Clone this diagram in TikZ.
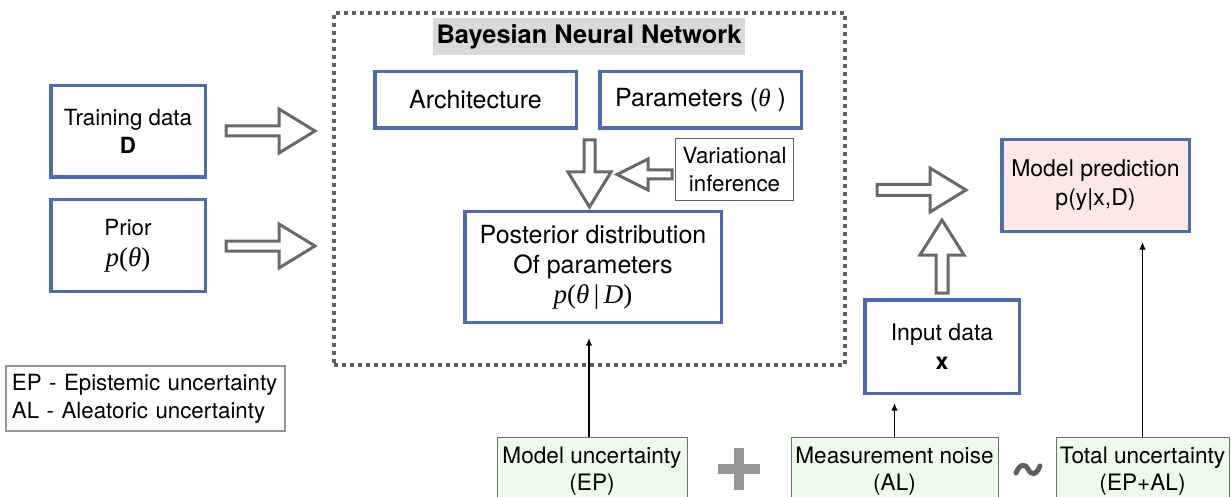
\documentclass[tikz,border=0pt]{standalone}
\usepackage{fontspec}
\setmainfont{TeX Gyre Heros}
\newfontfamily\tms{Liberation Serif}
\usetikzlibrary{arrows.meta}
\definecolor{boxblue}{RGB}{79,108,168}
\definecolor{arrgray}{RGB}{105,105,105}
\definecolor{framegray}{RGB}{95,95,95}
\definecolor{titlegray}{RGB}{217,217,217}
\definecolor{predpink}{RGB}{252,232,230}
\definecolor{unclgreen}{RGB}{238,250,235}
\definecolor{uncborder}{RGB}{110,110,110}
\definecolor{plusgray}{RGB}{150,150,150}
\definecolor{legendgray}{RGB}{150,150,150}
\begin{document}
\begin{tikzpicture}[x=1pt,y=-1pt,
  bluebox/.style={draw=boxblue, line width=3.5pt, fill=white, inner sep=0pt, align=center},
  fs21/.style={font=\fontsize{22.3}{28}\selectfont},
  fs22/.style={font=\fontsize{23}{29}\selectfont},
  fs24/.style={font=\fontsize{25}{30}\selectfont},
  hollow/.style={draw=arrgray, line width=3pt, fill=white, line join=miter},
  thinarrow/.style={draw=black, line width=1.4pt, -{Latex[length=7.5pt,width=6.5pt]}},
  uncbox/.style={draw=uncborder, line width=1pt, fill=unclgreen, inner sep=0pt, align=center,
    minimum height=68pt, font=\fontsize{22.6}{26.5}\selectfont},
  bnnframe/.style={draw=framegray, line width=3.3pt, dash pattern=on 4pt off 4pt},
]
\useasboundingbox (0,0) rectangle (1231,497);
\clip (0,0) rectangle (1231,497);

% BNN frame and title
\node[bnnframe, minimum width=511pt, minimum height=352pt, inner sep=0pt] (bnn) at (589.5,189) {};
\node[fill=titlegray, minimum width=312pt, minimum height=37pt, inner sep=0pt,
  font=\bfseries\fontsize{25.4}{28}\selectfont] (title) at (589,36.5) {Bayesian Neural Network};

% left inputs
\node[bluebox, fs21, minimum width=154.5pt, minimum height=91.5pt] (train) at (128,131.5)
  {Training data\\\textbf{D}};
\node[bluebox, fs21, minimum width=154.5pt, minimum height=91.5pt] (prior) at (128,245.5)
  {Prior\\[3pt]{\fontsize{27}{30}\selectfont\tms\textit{p}(\textit{θ})}};

% inside BNN
\node[bluebox, fs24, minimum width=201.5pt, minimum height=56.5pt] (arch) at (475.5,100) {Architecture};
\node[bluebox, fs24, minimum width=201.5pt, minimum height=56.5pt] (param) at (700.5,100)
  {Parameters ({\fontsize{25}{30}\selectfont\tms\textit{θ}} )};
\node[draw=framegray, line width=1pt, fill=white, inner sep=0pt, align=center, fs21,
  minimum width=118pt, minimum height=62pt] (var) at (734.5,169.5) {Variational\\inference};
\node[bluebox, fs24, minimum width=256.5pt, minimum height=110.5pt] (post) at (593,267)
  {Posterior distribution\\Of parameters\\{\fontsize{27}{30}\selectfont\tms\textit{p}(\textit{θ}\,|\,\textit{D})}};

% right side
\node[bluebox, fs22, fill=predpink, minimum width=187.5pt, minimum height=91.5pt] (pred) at (1095.5,185.5)
  {Model prediction\\p(y|x,D)};
\node[bluebox, fs22, minimum width=154.5pt, minimum height=93.5pt] (input) at (942,346.5)
  {Input data\\\textbf{x}};

% legend
\node[draw=legendgray, line width=2pt, fill=white, inner sep=0pt, align=left, fs21,
  minimum width=279pt, minimum height=65pt, text width=267pt] (legend) at (145.5,398.5)
  {EP - Epistemic uncertainty\\AL - Aleatoric uncertainty};

% bottom uncertainty boxes
\node[uncbox, minimum width=190pt] (mu) at (592,471) {Model uncertainty\\(EP)};
\node[uncbox, minimum width=207pt] (mn) at (894.5,471) {Measurement noise\\(AL)};
\node[uncbox, minimum width=173pt] (tu) at (1142.5,471) {Total uncertainty\\(EP+AL)};

% plus and tilde
\draw[plusgray, line width=10pt] (718,469) -- (760,469) (739,448) -- (739,490);
\draw[framegray, line width=5pt, line cap=round] (1016,473) .. controls (1020,463) and (1026,464) .. (1028,469)
  .. controls (1031,475) and (1036,476) .. (1040,466);

% hollow block arrows
\draw[hollow] (226,126) -- (279,126) -- (279,109) -- (315,131) -- (279,153) -- (279,136) -- (226,136) -- cycle;
\draw[hollow] (226,241) -- (279,241) -- (279,224) -- (315,246) -- (279,268) -- (279,251) -- (226,251) -- cycle;
\draw[hollow] (584,140) -- (595,140) -- (595,172) -- (611,172) -- (589.5,207) -- (568,172) -- (584,172) -- cycle;
\draw[hollow] (672,170) -- (648,170) -- (648,159) -- (617,174.5) -- (648,190) -- (648,179) -- (672,179) -- cycle;
\draw[hollow] (877,184.5) -- (930,184.5) -- (930,168) -- (966,190) -- (930,212) -- (930,195.5) -- (877,195.5) -- cycle;
\draw[hollow] (936,293) -- (936,255) -- (920,255) -- (942,220) -- (964,255) -- (948,255) -- (948,293) -- cycle;

% thin arrows
\draw[thinarrow, shorten >=14pt] ([xshift=-3pt]mu.north) -- ([xshift=-3pt]mu.north |- post.south);
\draw[thinarrow, shorten >=8pt] (mn.north) -- (mn.north |- input.south);
\draw[thinarrow, shorten >=9pt] (tu.north) -- (tu.north |- pred.south);
\end{tikzpicture}
\end{document}
